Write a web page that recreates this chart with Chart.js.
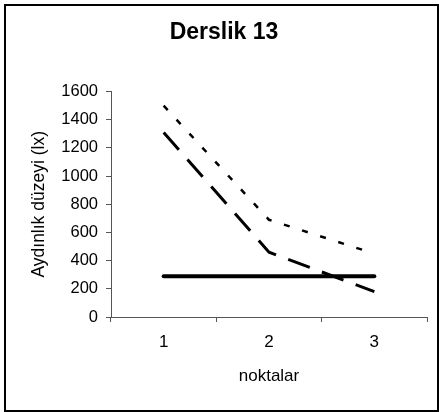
<!DOCTYPE html>
<html>
<head>
<meta charset="utf-8">
<script src="https://cdn.jsdelivr.net/npm/chart.js@4"></script>
<style>
  html, body { margin: 0; padding: 0; background: #fff; }
  #wrap { position: relative; width: 439px; height: 412px; }
</style>
</head>
<body>
<div id="wrap"><canvas id="chart" width="439" height="412"></canvas></div>
<script>
const points = ["1", "2", "3"];
const seriesDotted = [1500, 690, 450];
const seriesDashed = [1310, 460, 180];
const seriesSolid = [290, 290, 290];
const yTicks = [0, 200, 400, 600, 800, 1000, 1200, 1400, 1600];

const FONT = "'Liberation Sans', Arial, sans-serif";

// frame round the whole picture
const framePlugin = {
  id: "frame",
  afterDraw(chart) {
    const ctx = chart.ctx;
    ctx.save();
    ctx.strokeStyle = "#000";
    ctx.lineWidth = 2;
    ctx.strokeRect(5, 5, chart.width - 6, chart.height - 6);
    ctx.restore();
  }
};

new Chart(document.getElementById("chart"), {
  type: "line",
  data: {
    labels: points,
    datasets: [
      { data: seriesDotted, borderColor: "#000", borderWidth: 2.5, borderDash: [6, 13], pointRadius: 0, tension: 0 },
      { data: seriesDashed, borderColor: "#000", borderWidth: 3, borderDash: [23, 13], pointRadius: 0, tension: 0 },
      { data: seriesSolid, borderColor: "#000", borderWidth: 4, pointRadius: 0, tension: 0, borderCapStyle: "round" }
    ]
  },
  options: {
    responsive: false,
    animation: false,
    layout: { padding: { left: 21, right: 12, top: 0, bottom: 0 } },
    plugins: {
      legend: { display: false },
      tooltip: { enabled: false },
      title: {
        display: true,
        text: "Derslik 13",
        color: "#000",
        font: { family: FONT, size: 23, weight: "bold" },
        padding: { top: 19, bottom: 45 }
      }
    },
    scales: {
      x: {
        offset: true,
        grid: { offset: true, drawOnChartArea: false, drawTicks: true, tickLength: 5, color: "#555" },
        border: { display: true, color: "#555", width: 1 },
        ticks: { color: "#000", padding: 10, font: { family: FONT, size: 17 } },
        title: { display: true, text: "noktalar", color: "#000", font: { family: FONT, size: 17 }, padding: { top: 0, bottom: 25 } },
        afterFit(scale) { scale.height = 95; }
      },
      y: {
        min: 0,
        max: 1600,
        afterBuildTicks(scale) { scale.ticks = yTicks.map(v => ({ value: v })); },
        grid: { drawOnChartArea: false, drawTicks: true, tickLength: 5, color: "#555" },
        border: { display: true, color: "#555", width: 1 },
        ticks: { color: "#000", padding: 8, font: { family: FONT, size: 16.5 }, callback: v => String(v) },
        title: { display: true, text: "Aydınlık düzeyi (lx)", color: "#000", font: { family: FONT, size: 17.5 }, padding: { top: 8, bottom: 0 } },
        afterFit(scale) { scale.width = 90; }
      }
    }
  },
  plugins: [framePlugin]
});
</script>
</body>
</html>
